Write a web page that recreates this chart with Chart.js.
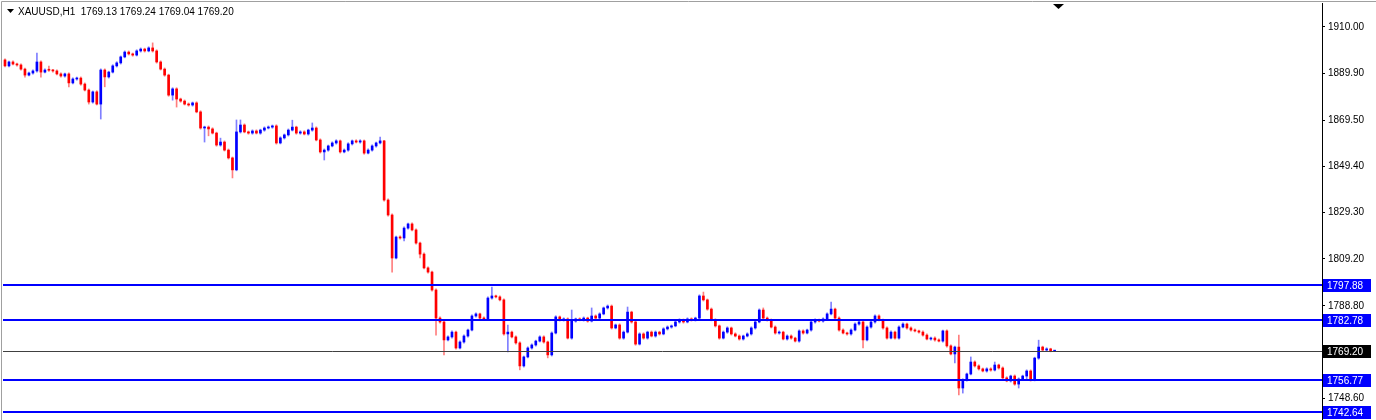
<!DOCTYPE html>
<html>
<head>
<meta charset="utf-8">
<title>XAUUSD,H1</title>
<script src="https://cdn.jsdelivr.net/npm/chart.js@4.4.0/dist/chart.umd.min.js"></script>
<style>
  html, body { margin: 0; padding: 0; background: #fff; overflow: hidden; }
  canvas { display: block; }
</style>
</head>
<body>
<canvas id="myChart" width="1376" height="420"></canvas>
<script>
/*====== data =======*/
const symbolTitle = 'XAUUSD,H1  1769.13 1769.24 1769.04 1769.20';
const firstOpen = 1895.7;

// hourly closes, oldest first
const closes = [
  1893.1, 1894.8, 1893.9, 1893.5, 1891.7, 1889.1, 1890.0, 1890.9, 1894.8, 1890.4,
  1891.3, 1891.2, 1890.9, 1889.6, 1888.7, 1889.6, 1885.7, 1887.4, 1887.8, 1885.2,
  1882.6, 1877.4, 1881.8, 1876.5, 1891.3, 1888.3, 1890.4, 1893.1, 1894.4, 1897.0,
  1899.1, 1898.3, 1897.8, 1899.6, 1900.4, 1899.6, 1900.9, 1899.6, 1894.8, 1891.7,
  1889.1, 1880.4, 1883.1, 1878.7, 1877.8, 1876.5, 1876.1, 1877.0, 1873.1, 1866.1,
  1866.5, 1865.7, 1863.9, 1858.7, 1860.0, 1856.5, 1853.1, 1847.9, 1864.4, 1867.4,
  1864.4, 1863.9, 1864.8, 1863.9, 1865.2, 1866.1, 1866.5, 1867.0, 1859.6, 1861.8,
  1863.1, 1865.2, 1866.5, 1863.9, 1864.4, 1863.5, 1865.2, 1866.1, 1860.9, 1855.7,
  1856.5, 1858.3, 1859.6, 1860.5, 1855.7, 1856.5, 1859.2, 1860.5, 1860.0, 1860.5,
  1855.2, 1856.5, 1858.3, 1859.6, 1860.5, 1834.8, 1828.3, 1809.6, 1818.7, 1818.3,
  1822.6, 1824.4, 1821.8, 1816.1, 1811.3, 1805.3, 1803.5, 1795.7, 1783.5, 1781.8,
  1774.0, 1775.3, 1777.4, 1770.5, 1773.1, 1775.7, 1778.3, 1784.4, 1785.3, 1783.5,
  1783.1, 1792.2, 1793.1, 1792.7, 1791.4, 1776.6, 1777.4, 1775.3, 1772.7, 1762.7,
  1766.6, 1770.5, 1771.8, 1773.5, 1775.3, 1773.1, 1767.5, 1777.0, 1784.0, 1782.7,
  1783.1, 1774.8, 1782.2, 1783.1, 1782.7, 1783.5, 1782.2, 1784.4, 1783.5, 1785.3,
  1787.9, 1788.7, 1779.2, 1780.5, 1774.8, 1777.4, 1786.1, 1781.8, 1772.2, 1776.6,
  1774.8, 1777.4, 1775.7, 1777.4, 1776.6, 1778.8, 1779.6, 1780.1, 1781.8, 1782.7,
  1781.8, 1783.1, 1782.7, 1783.5, 1793.1, 1791.4, 1787.4, 1782.7, 1780.1, 1774.8,
  1777.4, 1779.2, 1776.6, 1775.7, 1774.4, 1775.7, 1776.6, 1779.2, 1781.8, 1787.0,
  1783.5, 1782.7, 1779.6, 1777.0, 1777.4, 1774.4, 1775.7, 1774.8, 1773.5, 1777.9,
  1777.0, 1778.3, 1781.8, 1782.7, 1782.2, 1783.1, 1785.3, 1787.4, 1783.5, 1778.3,
  1777.0, 1776.6, 1778.3, 1780.9, 1781.8, 1774.0, 1779.6, 1781.8, 1784.4, 1782.7,
  1779.2, 1774.8, 1777.4, 1774.8, 1779.6, 1780.9, 1779.2, 1778.3, 1777.9, 1777.4,
  1776.1, 1774.4, 1774.8, 1774.0, 1773.5, 1777.9, 1771.4, 1767.9, 1770.9, 1753.1,
  1756.6, 1759.2, 1764.4, 1762.7, 1761.4, 1760.5, 1761.4, 1760.9, 1763.1, 1761.8,
  1757.5, 1756.2, 1758.3, 1754.8, 1757.0, 1758.3, 1760.5, 1756.6, 1766.1, 1770.9,
  1769.6, 1770.1, 1769.13, 1769.20
];

// shadow lengths above / below the body, in dollars
const upperWick = [
  0.5,0.4,0.5,0.4,0.5,0.5,0.4,0.5,3.9,0.5, 0.5,1.7,0.4,0.5,0.5,0.4,0.5,0.5,0.4,0.5,
  0.5,0.5,0.4,0.5,0.5,0.5,0.4,0.5,0.5,0.4, 0.5,0.5,0.4,0.5,0.5,0.4,0.5,2.2,0.5,0.5,
  0.5,0.4,0.5,0.5,0.4,0.5,0.5,0.4,0.5,0.5, 0.4,0.5,0.5,0.4,1.7,0.5,0.5,0.4,5.2,2.2,
  0.5,0.4,0.5,0.5,0.4,0.5,0.5,0.4,0.5,0.5, 0.4,0.5,3.0,0.4,0.5,0.5,0.4,2.2,0.5,0.5,
  0.5,0.4,0.5,0.5,0.4,0.5,0.5,0.4,0.5,0.5, 0.4,0.5,0.5,0.4,1.7,0.3,0.5,0.5,0.4,0.5,
  0.5,0.4,0.5,0.5,0.4,0.5,0.5,0.4,0.5,0.5, 0.4,0.5,0.5,0.4,0.5,0.5,0.4,0.5,0.5,0.4,
  0.5,0.5,3.9,0.4,0.5,0.5,3.0,0.4,0.5,0.5, 0.4,0.5,0.5,0.4,0.5,0.5,0.4,0.5,0.5,0.4,
  0.5,0.5,4.8,0.4,0.5,0.5,0.4,3.5,0.5,0.5, 0.4,0.5,0.5,0.4,0.5,0.5,2.2,0.4,0.5,0.5,
  0.5,0.4,0.5,0.5,0.4,0.5,0.5,0.4,0.5,0.5, 0.4,0.5,0.5,0.4,0.5,1.7,0.4,0.5,0.5,0.4,
  0.5,0.5,0.4,0.5,0.5,0.4,0.5,0.5,0.4,0.5, 0.9,0.5,0.4,0.5,0.5,0.4,0.5,0.5,0.4,0.5,
  0.5,0.4,0.5,0.5,0.4,0.5,0.5,3.0,0.4,0.5, 0.5,0.4,0.5,0.5,0.4,0.5,0.5,0.4,0.5,0.5,
  0.4,0.5,0.5,0.4,0.5,0.5,0.4,0.5,0.5,0.4, 0.5,0.5,0.4,0.5,0.5,0.4,0.5,0.5,0.4,5.2,
  0.5,0.4,2.2,0.5,0.5,0.4,0.5,0.5,1.3,0.4, 0.5,0.5,0.4,0.5,0.5,0.4,0.5,0.5,0.4,3.0,
  0.4,0.5,0.3,0.04
];
const lowerWick = [
  0.4,0.5,0.4,0.5,0.5,0.9,0.4,0.5,0.5,2.2, 0.4,0.5,0.5,0.4,0.5,0.5,1.7,0.4,0.5,0.5,
  0.4,0.9,0.5,0.4,6.5,4.3,0.5,0.4,0.5,0.5, 0.4,0.5,0.5,0.4,0.5,0.5,0.4,0.5,0.5,0.4,
  0.5,0.5,2.2,3.5,0.5,0.4,0.5,0.5,0.4,0.5, 6.1,3.0,0.4,0.5,0.5,0.4,0.5,3.5,0.4,0.5,
  0.4,0.5,0.5,0.4,0.5,0.5,0.4,0.5,0.5,0.4, 0.5,0.5,0.4,0.5,0.5,0.4,0.5,0.5,0.4,0.5,
  3.5,0.5,0.4,0.5,0.5,0.4,0.5,0.5,0.4,0.5, 0.5,0.4,0.5,0.5,0.4,0.5,0.5,6.1,0.4,0.5,
  1.3,0.5,0.4,0.5,1.7,0.4,0.5,0.5,7.4,0.5, 6.5,0.4,0.5,0.5,0.4,0.5,0.5,0.4,0.5,0.5,
  0.4,0.5,0.5,0.4,0.5,0.5,7.8,0.4,0.5,1.7, 0.5,0.4,0.5,0.5,0.4,0.5,1.3,0.5,0.4,0.5,
  0.5,0.4,0.5,0.5,0.4,0.5,0.5,0.4,0.5,0.5, 0.4,0.5,0.5,0.4,0.5,0.5,0.4,0.5,0.5,0.4,
  0.5,0.5,0.4,0.5,0.5,0.4,0.5,0.5,0.4,0.5, 0.5,0.4,0.5,0.5,0.4,0.5,0.5,0.4,0.5,0.5,
  0.4,0.5,0.5,0.4,0.5,0.5,0.4,0.5,0.5,0.4, 0.5,0.5,0.4,0.5,0.5,0.4,0.5,0.5,0.4,0.5,
  0.5,0.4,0.5,0.5,0.4,0.5,0.5,0.4,0.5,0.5, 0.4,0.5,0.5,0.4,0.5,3.5,0.4,0.5,0.5,0.4,
  0.5,0.5,0.4,0.5,0.5,0.4,0.5,0.5,0.4,0.5, 0.5,0.4,0.5,0.5,0.4,0.5,0.5,0.4,3.9,3.0,
  2.2,0.5,0.4,0.5,0.5,0.4,0.5,0.5,0.4,0.5, 0.5,0.4,0.5,0.5,1.7,0.4,1.7,0.5,0.4,0.5,
  0.4,0.5,0.3,0.09
];

const priceTicks = [1910.00, 1889.90, 1869.50, 1849.40, 1829.30, 1809.20, 1788.80, 1748.60];
const levels = [1797.88, 1782.78, 1756.77, 1742.64];
const bidPrice = 1769.20;

/*====== candles =======*/
const opens = closes.map((c, i) => i === 0 ? firstOpen : closes[i - 1]);
const bodies = closes.map((c, i) => ({ x: i, y: [opens[i], c] }));
const shadows = closes.map((c, i) => ({
  x: i,
  y: [Math.min(opens[i], c) - lowerWick[i], Math.max(opens[i], c) + upperWick[i]]
}));

const BULL = '#0000ff';
const BEAR = '#ff0000';
function isBull(i) { return i === undefined || closes[i] >= opens[i]; }

const font = 'Liberation Sans, Arial, sans-serif';

/*====== overlays: levels, bid, header =======*/
const overlay = {
  id: 'overlay',
  afterDraw(chart) {
    const c = chart.ctx;
    const a = chart.chartArea;
    const y = chart.scales.y;
    c.save();

    // frame
    c.strokeStyle = '#a0a0a0';
    c.lineWidth = 1;
    c.beginPath();
    c.moveTo(1.5, 420); c.lineTo(1.5, 1.5); c.lineTo(1376, 1.5);
    c.stroke();

    // horizontal levels
    c.strokeStyle = '#0000ff';
    c.lineWidth = 2;
    levels.forEach(v => {
      const py = Math.round(y.getPixelForValue(v));
      c.beginPath(); c.moveTo(a.left, py); c.lineTo(a.right, py); c.stroke();
    });
    const by = Math.round(y.getPixelForValue(bidPrice)) + 0.5;
    c.strokeStyle = '#404040';
    c.lineWidth = 1;
    c.beginPath(); c.moveTo(a.left, by); c.lineTo(a.right, by); c.stroke();

    // price boxes on the axis
    c.font = '10px ' + font;
    c.textBaseline = 'middle';
    const box = (v, bg) => {
      const py = Math.round(y.getPixelForValue(v));
      c.fillStyle = bg;
      c.fillRect(a.right + 1, py - 6, 48, 13);
      c.fillStyle = '#fff';
      c.fillText(v.toFixed(2), a.right + 5, py + 1);
    };
    levels.forEach(v => box(v, '#0000ff'));
    box(bidPrice, '#000');

    // header
    c.fillStyle = '#000';
    c.beginPath(); c.moveTo(7, 9); c.lineTo(14, 9); c.lineTo(10.5, 13); c.closePath(); c.fill();
    c.font = '10px ' + font;
    c.fillText(symbolTitle, 18, 12);

    // chart shift marker
    c.beginPath(); c.moveTo(1053, 4); c.lineTo(1064, 4); c.lineTo(1058.5, 9); c.closePath(); c.fill();

    c.restore();
  }
};

const myChart = new Chart(document.getElementById('myChart'), {
  type: 'bar',
  data: {
    datasets: [{
      label: 'body',
      data: bodies,
      backgroundColor: ctx => isBull(ctx.dataIndex) ? BULL : BEAR,
      borderWidth: 0,
      barThickness: 2,
      minBarLength: 1,
      grouped: false
    }, {
      label: 'shadow',
      data: shadows,
      backgroundColor: ctx => isBull(ctx.dataIndex) ? 'rgba(0,0,255,0.5)' : 'rgba(255,0,0,0.5)',
      borderWidth: 0,
      barThickness: 1,
      minBarLength: 1,
      grouped: false
    }]
  },
  options: {
    responsive: false,
    animation: false,
    devicePixelRatio: 1,
    layout: { padding: { left: 3, top: 3, right: 0, bottom: 0 } },
    plugins: { legend: { display: false }, tooltip: { enabled: false } },
    scales: {
      x: { type: 'linear', min: -0.5, max: 330, offset: false, display: false },
      y: {
        position: 'right',
        min: 1739.2,
        max: 1920.43,
        afterBuildTicks: s => { s.ticks = priceTicks.map(v => ({ value: v })); },
        afterFit: s => { s.width = 54; s.paddingTop = 0; s.paddingBottom = 0; },
        ticks: {
          autoSkip: false,
          maxRotation: 0,
          padding: 3,
          color: '#000',
          font: { family: font, size: 10 },
          callback: v => Number(v).toFixed(2)
        },
        grid: { drawOnChartArea: false, drawTicks: true, tickLength: 3, color: '#000' },
        border: { display: true, color: '#000', width: 1 }
      }
    }
  },
  plugins: [overlay]
});
</script>
</body>
</html>
